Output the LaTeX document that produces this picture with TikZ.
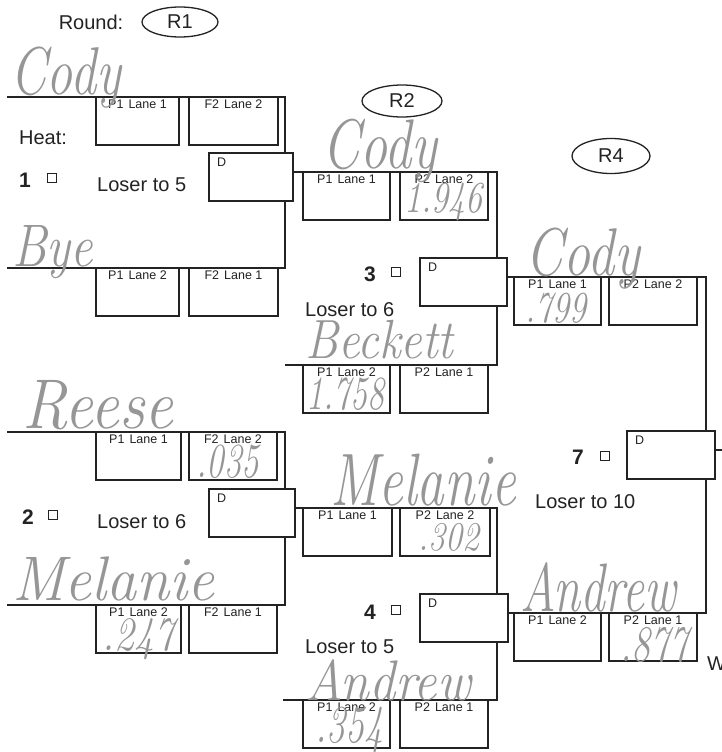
\documentclass[tikz,border=0pt]{standalone}
\usepackage{fontspec}
\usepackage{graphicx}
\newfontfamily\arial{Liberation Sans}
\usetikzlibrary{shapes.geometric}
\definecolor{pencil}{RGB}{150,150,150}
\definecolor{ink}{RGB}{35,35,35}
\newcommand\laneslot[5]{%
  \node[slot, minimum width=#4pt] (#1) at (#2,#3) {};
  \node[slotlbl] (#1t) at ([yshift=-2.5pt]#1.north) {#5};}
\newcommand\dslot[4]{%
  \node[dbox, minimum width=#4pt] (#1) at (#2,#3) {};
  \node[dlbl] (#1t) at ([xshift=8pt,yshift=-5pt]#1.north west) {D};}
\newcommand\hw[6]{\node[hand] (#1) at (#2,#3) {\fontsize{#4}{#4}\selectfont\scalebox{1}[#5]{#6}};}
\begin{document}
\begin{tikzpicture}[x=1pt,y=-1pt,
  bline/.style={draw=ink, line width=1.3pt},
  slot/.style={draw=ink, line width=1.9pt, fill=white, rectangle, inner sep=0pt, outer sep=0pt, anchor=north west, minimum height=48pt},
  dbox/.style={draw=ink, line width=1.4pt, fill=white, rectangle, inner sep=0pt, outer sep=0pt, anchor=north west, minimum height=48pt},
  slotlbl/.style={font=\arial\fontsize{12.5}{12.5}\selectfont, anchor=north, inner sep=0pt, text=ink},
  dlbl/.style={font=\arial\fontsize{12.5}{12.5}\selectfont, anchor=north west, inner sep=0pt, text=ink},
  big/.style={font=\arial\fontsize{20}{20}\selectfont, inner sep=0pt, text=ink},
  num/.style={font=\arial\bfseries\fontsize{21}{21}\selectfont, inner sep=0pt, text=ink},
  chk/.style={draw=ink, line width=1.4pt, minimum size=8.5pt, inner sep=0pt, rectangle},
  rnd/.style={draw=ink, line width=1.3pt, ellipse, inner sep=0pt, font=\arial\fontsize{20}{20}\selectfont, text=ink},
  hand/.style={font=\itshape, text=pencil, anchor=base west, inner sep=0pt}
]
\useasboundingbox[fill=white] (0,0) rectangle (721,752);

% ---------- round labels
\node[big] (roundlbl) at (91,22) {Round:};
\node[rnd, minimum width=76pt, minimum height=30pt] (r1) at (180,22) {R1};
\node[rnd, minimum width=80pt, minimum height=32pt] (r2) at (402,101) {R2};
\node[rnd, minimum width=78pt, minimum height=35pt] (r4) at (611,156) {R4};

% ---------- bracket lines
\coordinate (h1a) at (7,97);   \coordinate (h1b) at (285,97);
\coordinate (h1c) at (285,268);\coordinate (h1d) at (7,268);
\coordinate (h2a) at (7,432);  \coordinate (h2b) at (285,432);
\coordinate (h2c) at (285,605);\coordinate (h2d) at (7,605);
\coordinate (h3b) at (497,172);\coordinate (h3c) at (497,365);\coordinate (h3d) at (285,365);
\coordinate (h4b) at (497,508);\coordinate (h4c) at (497,700);\coordinate (h4d) at (283,700);
\coordinate (h7b) at (706,277);\coordinate (h7c) at (706,613);
\coordinate (h7out) at (724,450);

\draw[bline] (h1a) -- (h1b) -- (h1c) -- (h1d);
\draw[bline] (h2a) -- (h2b) -- (h2c) -- (h2d);

% ---------- heat 1
\laneslot{h1p1}{96}{97}{83}{P1\hspace{5pt}Lane 1}
\laneslot{h1p2}{189}{97}{89}{F2\hspace{5pt}Lane 2}
\laneslot{h1q1}{96}{268}{83}{P1\hspace{5pt}Lane 2}
\laneslot{h1q2}{189}{268}{89}{F2\hspace{5pt}Lane 1}
\dslot{h1D}{209}{153}{84}
\node[big] (heat) at (43,138) {Heat:};
\node[num] (n1) at (25,180) {1};
\node[chk] (c1) at (52,178) {};
\node[big, anchor=west] (l1) at (97,185) {Loser to 5};

% ---------- heat 2
\laneslot{h2p1}{96}{432}{85}{P1\hspace{5pt}Lane 1}
\laneslot{h2p2}{189}{432}{88}{F2\hspace{5pt}Lane 2}
\laneslot{h2q1}{96}{605}{85}{P1\hspace{5pt}Lane 2}
\laneslot{h2q2}{189}{605}{88}{F2\hspace{5pt}Lane 1}
\dslot{h2D}{209}{489}{86}
\node[num] (n2) at (28,517) {2};
\node[chk] (c2) at (53,515) {};
\node[big, anchor=west] (l2) at (97,522) {Loser to 6};

% ---------- heat 3
\draw[bline] (h1D.east |- h3b) -- (h3b) -- (h3c) -- (h3d);
\laneslot{h3p1}{303}{172}{87}{P1\hspace{5pt}Lane 1}
\laneslot{h3p2}{400}{172}{88}{P2\hspace{5pt}Lane 2}
\laneslot{h3q1}{303}{365}{87}{P1\hspace{5pt}Lane 2}
\laneslot{h3q2}{400}{365}{88}{P2\hspace{5pt}Lane 1}
\dslot{h3D}{420}{258}{87}
\node[num] (n3) at (370,274) {3};
\node[chk] (c3) at (396,272) {};
\node[big, anchor=west] (l3) at (305,310) {Loser to 6};

% ---------- heat 4
\draw[bline] (h2D.east |- h4b) -- (h4b) -- (h4c) -- (h4d);
\laneslot{h4p1}{303}{508}{89}{P1\hspace{5pt}Lane 1}
\laneslot{h4p2}{400}{508}{90}{P2\hspace{5pt}Lane 2}
\laneslot{h4q1}{303}{700}{87}{P1\hspace{5pt}Lane 2}
\laneslot{h4q2}{400}{700}{88}{P2\hspace{5pt}Lane 1}
\dslot{h4D}{420}{594}{88}
\node[num] (n4) at (370,612) {4};
\node[chk] (c4) at (396,610) {};
\node[big, anchor=west] (l4) at (305,647) {Loser to 5};

% ---------- heat 7
\draw[bline] (h3D.east |- h7b) -- (h7b) -- (h7c) -- (h4D.east |- h7c);
\laneslot{h7p1}{514}{277}{87}{P1\hspace{5pt}Lane 1}
\laneslot{h7p2}{609}{277}{88}{P2\hspace{5pt}Lane 2}
\laneslot{h7q1}{514}{613}{87}{P1\hspace{5pt}Lane 2}
\laneslot{h7q2}{609}{613}{88}{P2\hspace{5pt}Lane 1}
\draw[bline] (h7out -| 700,0) -- (h7out);
\dslot{h7D}{627}{431}{88}
\node[num] (n7) at (578,457) {7};
\node[chk] (c7) at (605,456) {};
\node[big, anchor=west] (l7) at (535,502) {Loser to 10};
\node[big, anchor=west] (win) at (707,664) {W};

% ---------- handwriting
\hw{w1}{10}{95}{52}{1.3}{Cody}
\hw{w2}{12}{266}{50}{1.2}{Bye}
\hw{w3}{322}{168}{54}{1.3}{Cody}
\hw{w4}{404}{212}{34}{1.3}{1.946}
\hw{w5}{305}{358}{48}{1.15}{Beckett}
\hw{w6}{306}{409}{34}{1.4}{1.758}
\hw{w7}{22}{428}{64}{1.1}{Reese}
\hw{w8}{196}{477}{35}{1.4}{.035}
\hw{w9}{330}{505}{55}{1.35}{Melanie}
\hw{w10}{418}{550}{34}{1.2}{.302}
\hw{w11}{12}{600}{60}{1.05}{Melanie}
\hw{w12}{102}{650}{40}{1.2}{.247}
\hw{w13}{305}{700}{52}{1.1}{Andrew}
\hw{w14}{315}{742}{38}{1.4}{.354}
\hw{w15}{525}{275}{54}{1.25}{Cody}
\hw{w16}{525}{322}{34}{1.3}{.799}
\hw{w17}{520}{611}{49}{1.4}{Andrew}
\hw{w18}{620}{661}{38}{1.35}{.877}
\end{tikzpicture}
\end{document}
